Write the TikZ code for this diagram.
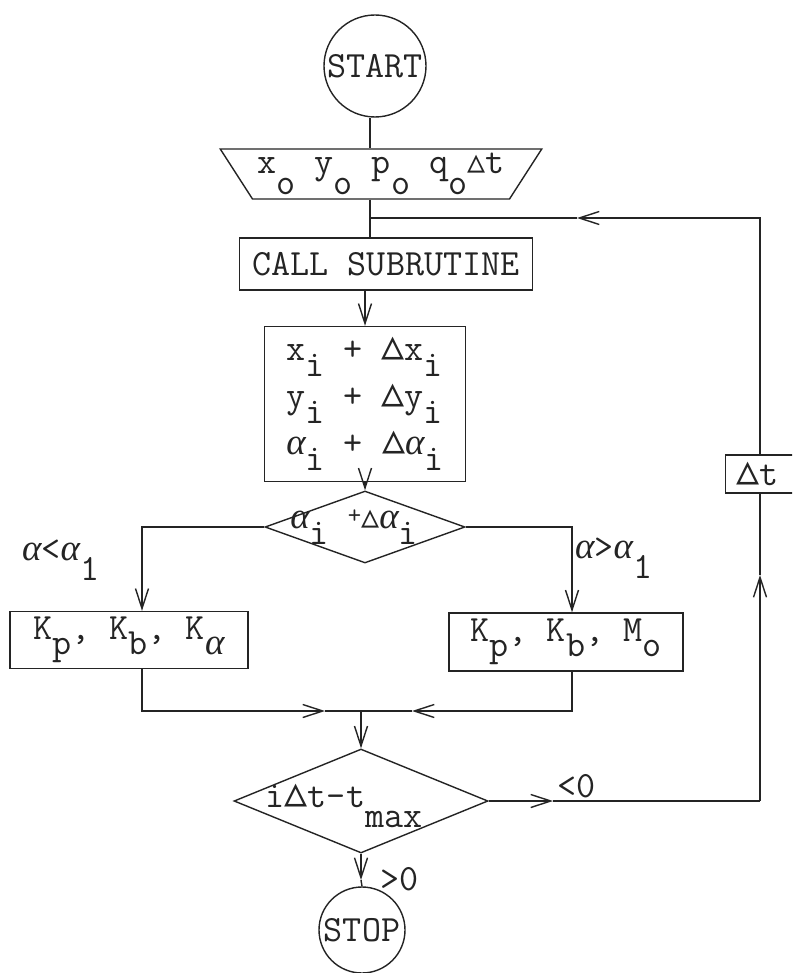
\documentclass[tikz,border=0pt]{standalone}
\usepackage{fontspec}
\newfontfamily\dejavu{DejaVu Sans}
\newfontfamily\grk{Liberation Serif}
\usetikzlibrary{arrows.meta,shapes.geometric}
\definecolor{ink}{HTML}{242424}
\newcommand{\sbs}[1]{\raisebox{-0.42em}{#1}}
\newcommand{\sbt}[1]{\raisebox{-0.55em}{#1}}
\newcommand{\tri}{{\dejavu\fontsize{46}{46}\selectfont ▵}}
\newcommand{\stri}{{\dejavu\fontsize{36}{36}\selectfont ▵}}
\newcommand{\al}{{\grk\itshape\fontsize{37}{37}\selectfont α}}
\tikzset{
  ln/.style={line width=1.4pt, draw=ink},
  arr/.style={ln, -{Straight Barb[length=20pt,width=13pt,line width=1.4pt]}},
  box/.style={rectangle, draw=ink, line width=1.4pt, inner sep=0pt, text=ink},
  circ/.style={circle, draw=ink, line width=1.4pt, inner sep=0pt, text=ink},
  dia/.style={diamond, draw=ink, line width=1.4pt, inner sep=0pt},
  trap/.style={trapezium, draw=ink, line width=1.4pt, inner sep=0pt, text=ink,
    trapezium left angle=53, trapezium right angle=53, shape border rotate=180,
    trapezium stretches=true},
  lbl/.style={inner sep=0pt, text=ink, anchor=base west},
}
\begin{document}
\begin{tikzpicture}[x=1pt, y=-1pt, font=\ttfamily\fontsize{37}{47}\selectfont]
\useasboundingbox (0,0) rectangle (792,973);
\fill[white] (0,0) rectangle (792,973);
\clip (0,0) rectangle (792,973);

% nodes
\node[circ, minimum size=102] (start) at (375,66) {START};
\node[trap, minimum width=322, minimum height=50] (trap) at (381,174)
  {x\sbt{o} y\sbt{o} p\sbt{o} q\sbt{o}\stri t};
\node[box, minimum width=293, minimum height=52] (call) at (386,264) {CALL SUBRUTINE};
\node[box, minimum width=201, minimum height=155, align=left] (upd) at (365,404)
  {x\sbs{i} + \tri x\sbs{i}\\ y\sbs{i} + \tri y\sbs{i}\\ \al\sbs{i} + \tri\al\sbs{i}};
\node[dia, minimum width=200, minimum height=72] (d1) at (365,527) {};
\node[inner sep=0pt, text=ink] (d1t) at (354,527)
  {\al\sbs{i} {\fontsize{26}{26}\selectfont\raisebox{0.2em}{+}}\stri\al\sbs{i}};
\node[box, minimum width=238, minimum height=57] (b1) at (129,640)
  {K\sbs{p}, K\sbs{b}, K\sbs{\al}};
\node[box, minimum width=234, minimum height=58] (b2) at (566,642)
  {K\sbs{p}, K\sbs{b}, M\sbs{o}};
\node[dia, minimum width=254, minimum height=104] (d2) at (361,801) {};
\node[inner sep=0pt, text=ink] (d2t) at (344,806) {i\tri t-t\sbt{max}};
\node[circ, minimum size=86] (stop) at (362,930) {STOP};
\node[box, anchor=west, minimum height=38, inner xsep=11pt, fill=white] (dt) at (725,474)
  {\tri t\kern40pt};

% labels
\node[lbl] (l1) at (22,560) {\al<\al\sbt{1}};
\node[lbl] (l2) at (575,558) {\al>\al\sbt{1}};
\node[lbl] (l3) at (557,797) {<0};
\node[lbl] (l4) at (380,890) {>0};

% helper coordinates
\coordinate (j1) at (370,218);
\coordinate (lx) at (142,0);
\coordinate (rx) at (572,0);
\coordinate (mid) at (361,711);
\coordinate (ml) at (325,711);
\coordinate (mr) at (412,711);
\coordinate (ms) at (361,880);
\coordinate (mb) at (553,801);
\coordinate (rb) at (760,801);
\coordinate (mu) at (760,575);
\coordinate (mt) at (577,218);

% connectors
\draw[ln] (start.south -| j1) -- (j1 |- trap.north);
\draw[ln] (j1 |- trap.south) -- (j1 |- call.north);
\draw[arr] (call.south -| upd.north) -- (upd.north);
\draw[arr] (upd.south -| d1.north) -- (d1.north);
\draw[arr] (d1.west) -| (b1.north -| lx);
\draw[arr] (d1.east) -| (b2.north -| rx);
\draw[arr] (b1.south -| lx) |- (ml);
\draw[ln] (ml) -- (mid);
\draw[arr] (b2.south -| rx) |- (mr);
\draw[ln] (mr) -- (mid);
\draw[arr] (mid) -- (d2.north);
\draw[arr] (d2.south) -- (ms);
\draw[ln] (ms) -- (stop.north);
\draw[arr] (d2.east) -- (mb);
\draw[ln] (mb) -- (rb);
\draw[arr] (rb) -- (mu);
\draw[ln] (mu) -- (mu |- dt.south);
\draw[arr] (mu |- dt.north) |- (mt);
\draw[ln] (mt) -- (j1);
\end{tikzpicture}
\end{document}
